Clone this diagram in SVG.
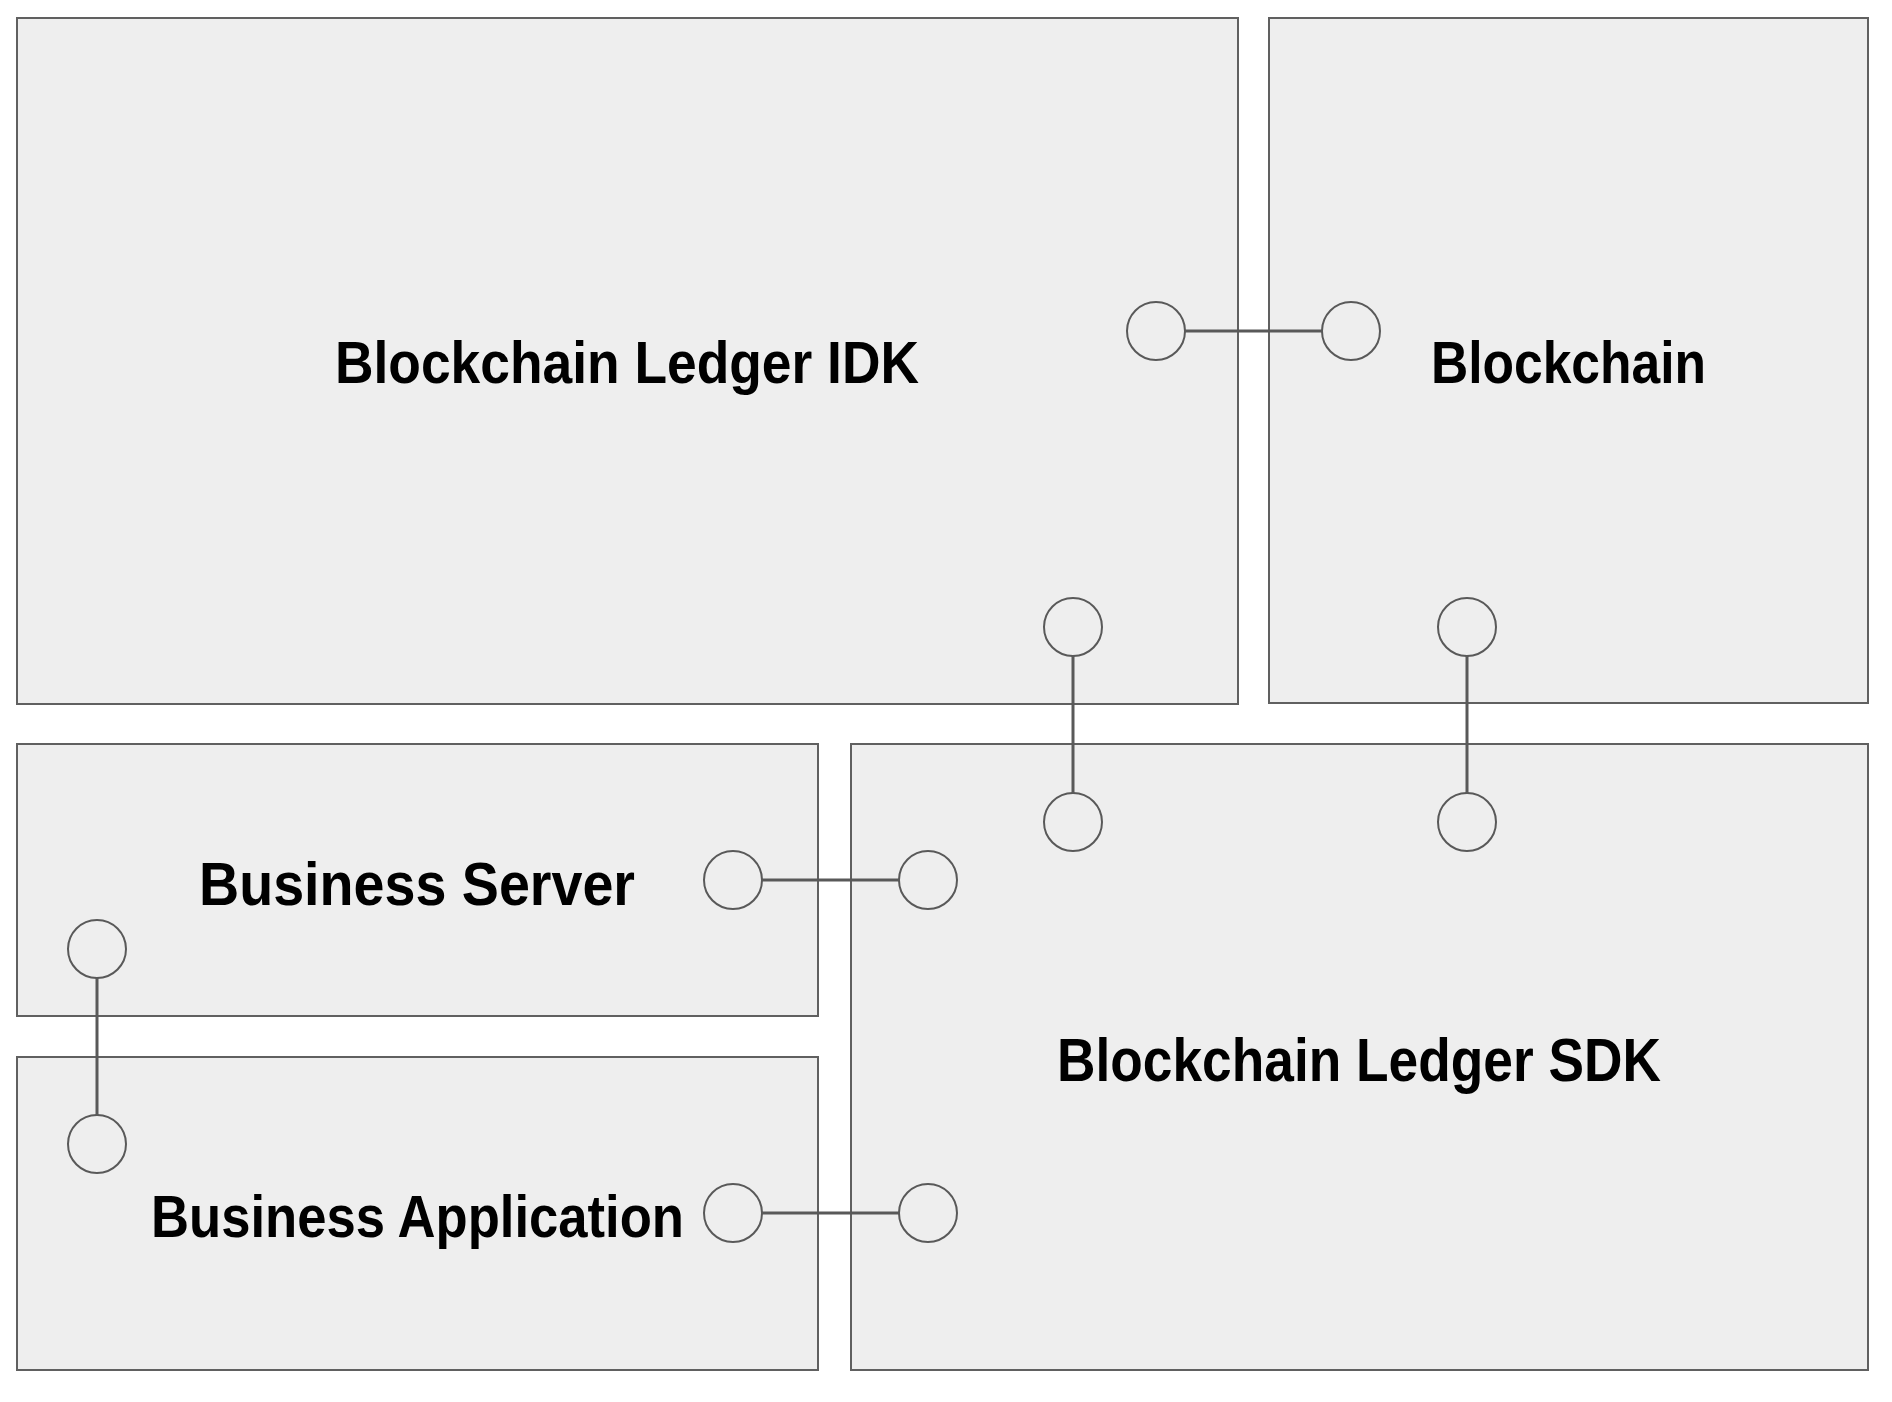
<svg xmlns="http://www.w3.org/2000/svg" width="1892" height="1402" viewBox="0 0 1892 1402">
<style>
.box{fill:#eeeeee;stroke:#606060;stroke-width:2}
.port{fill:#eeeeee;stroke:#595959;stroke-width:2}
.lbl{font-family:"Liberation Sans",Arial,sans-serif;font-weight:bold;fill:#000;text-anchor:middle}
.conn{stroke:#595959;stroke-width:3;fill:none}
</style>
<rect width="1892" height="1402" fill="#ffffff"/>
<g id="idk">
<rect class="box" x="17" y="18" width="1221" height="686"/>
<text class="lbl" x="627" y="383" font-size="59" textLength="584" lengthAdjust="spacingAndGlyphs">Blockchain Ledger IDK</text>
<circle class="port" cx="1156" cy="331" r="29"/>
<circle class="port" cx="1073" cy="627" r="29"/>
</g>
<g id="blockchain">
<rect class="box" x="1269" y="18" width="599" height="685"/>
<text class="lbl" x="1568.5" y="383" font-size="59" textLength="275" lengthAdjust="spacingAndGlyphs">Blockchain</text>
<circle class="port" cx="1351" cy="331" r="29"/>
<circle class="port" cx="1467" cy="627" r="29"/>
</g>
<g id="server">
<rect class="box" x="17" y="744" width="801" height="272"/>
<text class="lbl" x="417" y="905" font-size="62" textLength="436" lengthAdjust="spacingAndGlyphs">Business Server</text>
<circle class="port" cx="733" cy="880" r="29"/>
<circle class="port" cx="97" cy="949" r="29"/>
</g>
<g id="app">
<rect class="box" x="17" y="1057" width="801" height="313"/>
<text class="lbl" x="417.5" y="1237" font-size="60" textLength="533" lengthAdjust="spacingAndGlyphs">Business Application</text>
<circle class="port" cx="733" cy="1213" r="29"/>
<circle class="port" cx="97" cy="1144" r="29"/>
</g>
<g id="sdk">
<rect class="box" x="851" y="744" width="1017" height="626"/>
<text class="lbl" x="1359" y="1081" font-size="61" textLength="604" lengthAdjust="spacingAndGlyphs">Blockchain Ledger SDK</text>
<circle class="port" cx="1073" cy="822" r="29"/>
<circle class="port" cx="1467" cy="822" r="29"/>
<circle class="port" cx="928" cy="880" r="29"/>
<circle class="port" cx="928" cy="1213" r="29"/>
</g>
<g id="connectors">
<line class="conn" x1="1185" y1="331" x2="1322" y2="331"/>
<line class="conn" x1="1073" y1="656" x2="1073" y2="793"/>
<line class="conn" x1="1467" y1="656" x2="1467" y2="793"/>
<line class="conn" x1="762" y1="880" x2="899" y2="880"/>
<line class="conn" x1="762" y1="1213" x2="899" y2="1213"/>
<line class="conn" x1="97" y1="978" x2="97" y2="1115"/>
</g>
</svg>
